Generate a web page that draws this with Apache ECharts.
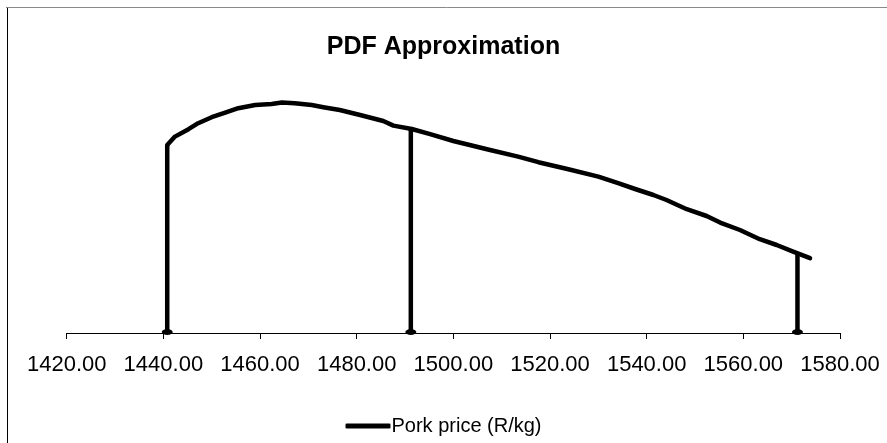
<!DOCTYPE html>
<html>
<head>
<meta charset="utf-8">
<script src="https://cdn.jsdelivr.net/npm/echarts@6/dist/echarts.min.js"></script>
<style>
  html, body { margin: 0; padding: 0; background: #fff; }
  #chart { width: 887px; height: 443px; }
</style>
</head>
<body>
<div id="chart"></div>
<script>
// Price (R/kg) values along the PDF curve
var priceX = [1440.8, 1442.4, 1445.2, 1447.2, 1450.0, 1452.8, 1455.5, 1459.0, 1462.4, 1464.5,
              1467.2, 1470.7, 1473.1, 1476.5, 1480.7, 1485.5, 1487.6, 1491.4, 1495.2, 1500.0,
              1507.6, 1513.4, 1517.6, 1523.8, 1530.0, 1534.1, 1537.6, 1541.4, 1544.1, 1548.3,
              1552.4, 1555.2, 1559.3, 1563.4, 1566.9, 1570.3, 1573.8];
// Approximate density values
var densityY = [0.00940, 0.00982, 0.01019, 0.01049, 0.01079, 0.01102, 0.01124, 0.01140, 0.01145, 0.01152,
                0.01149, 0.01140, 0.01129, 0.01115, 0.01090, 0.01060, 0.01037, 0.01020, 0.00994, 0.00960,
                0.00915, 0.00882, 0.00854, 0.00819, 0.00782, 0.00749, 0.00720, 0.00690, 0.00665, 0.00619,
                0.00585, 0.00552, 0.00515, 0.00469, 0.00440, 0.00407, 0.00374];
// Vertical marker lines (x position and height)
var markerX = [1440.8, 1491.2, 1571.2];
var markerY = [0.00940, 0.01020, 0.00398];
// Axis ticks
var xMin = 1420, xMax = 1580, xStep = 20;
var seriesName = 'Pork price (R/kg)';
var titleText = 'PDF Approximation';

var curve = priceX.map(function (x, i) { return [x, densityY[i]]; });
var series = [{
  name: seriesName,
  type: 'line',
  data: curve,
  showSymbol: false,
  symbol: 'none',
  lineStyle: { color: '#000', width: 4.5, cap: 'round', join: 'round' },
  itemStyle: { color: '#000' },
  z: 3
}];
markerX.forEach(function (x, i) {
  series.push({
    name: 'marker' + i,
    type: 'line',
    data: [
      { value: [x, 0], symbol: 'circle', symbolSize: [11, 6], symbolOffset: [0, -1] },
      { value: [x, markerY[i]], symbol: 'none' }
    ],
    lineStyle: { color: '#000', width: 4.5 },
    itemStyle: { color: '#000' },
    showSymbol: true,
    silent: true,
    z: 2
  });
});

var chart = echarts.init(document.getElementById('chart'), null, { renderer: 'canvas' });
chart.setOption({
  animation: false,
  backgroundColor: '#fff',
  title: {
    text: titleText,
    left: 'center',
    top: 30,
    textStyle: { fontFamily: 'Liberation Sans, Arial, sans-serif', fontWeight: 'bold', fontSize: 25, color: '#000' }
  },
  legend: {
    data: [seriesName],
    left: 'center',
    top: 411,
    itemWidth: 45,
    itemHeight: 5,
    icon: 'roundRect',
    itemStyle: { color: '#000' },
    textStyle: { fontFamily: 'Liberation Sans, Arial, sans-serif', fontSize: 20, color: '#000', padding: [0, 0, 0, -4] }
  },
  grid: { left: 66.7, right: 47, top: 93, bottom: 110, containLabel: false },
  xAxis: {
    type: 'value',
    min: xMin,
    max: xMax,
    interval: xStep,
    splitLine: { show: false },
    axisLine: { show: true, lineStyle: { color: '#000', width: 1 } },
    axisTick: { show: true, length: 6, lineStyle: { color: '#000' } },
    axisLabel: {
      margin: 21,
      fontFamily: 'Liberation Sans, Arial, sans-serif',
      fontSize: 22,
      color: '#000',
      formatter: function (v) { return v.toFixed(2); }
    }
  },
  yAxis: {
    type: 'value',
    min: 0,
    max: 0.012,
    show: false,
    splitLine: { show: false }
  },
  graphic: [
    { type: 'line', shape: { x1: 6, y1: 7.5, x2: 887, y2: 7.5 }, style: { stroke: '#888', lineWidth: 1 } },
    { type: 'line', shape: { x1: 7.5, y1: 8, x2: 7.5, y2: 443 }, style: { stroke: '#000', lineWidth: 1 } }
  ],
  series: series
});
</script>
</body>
</html>
